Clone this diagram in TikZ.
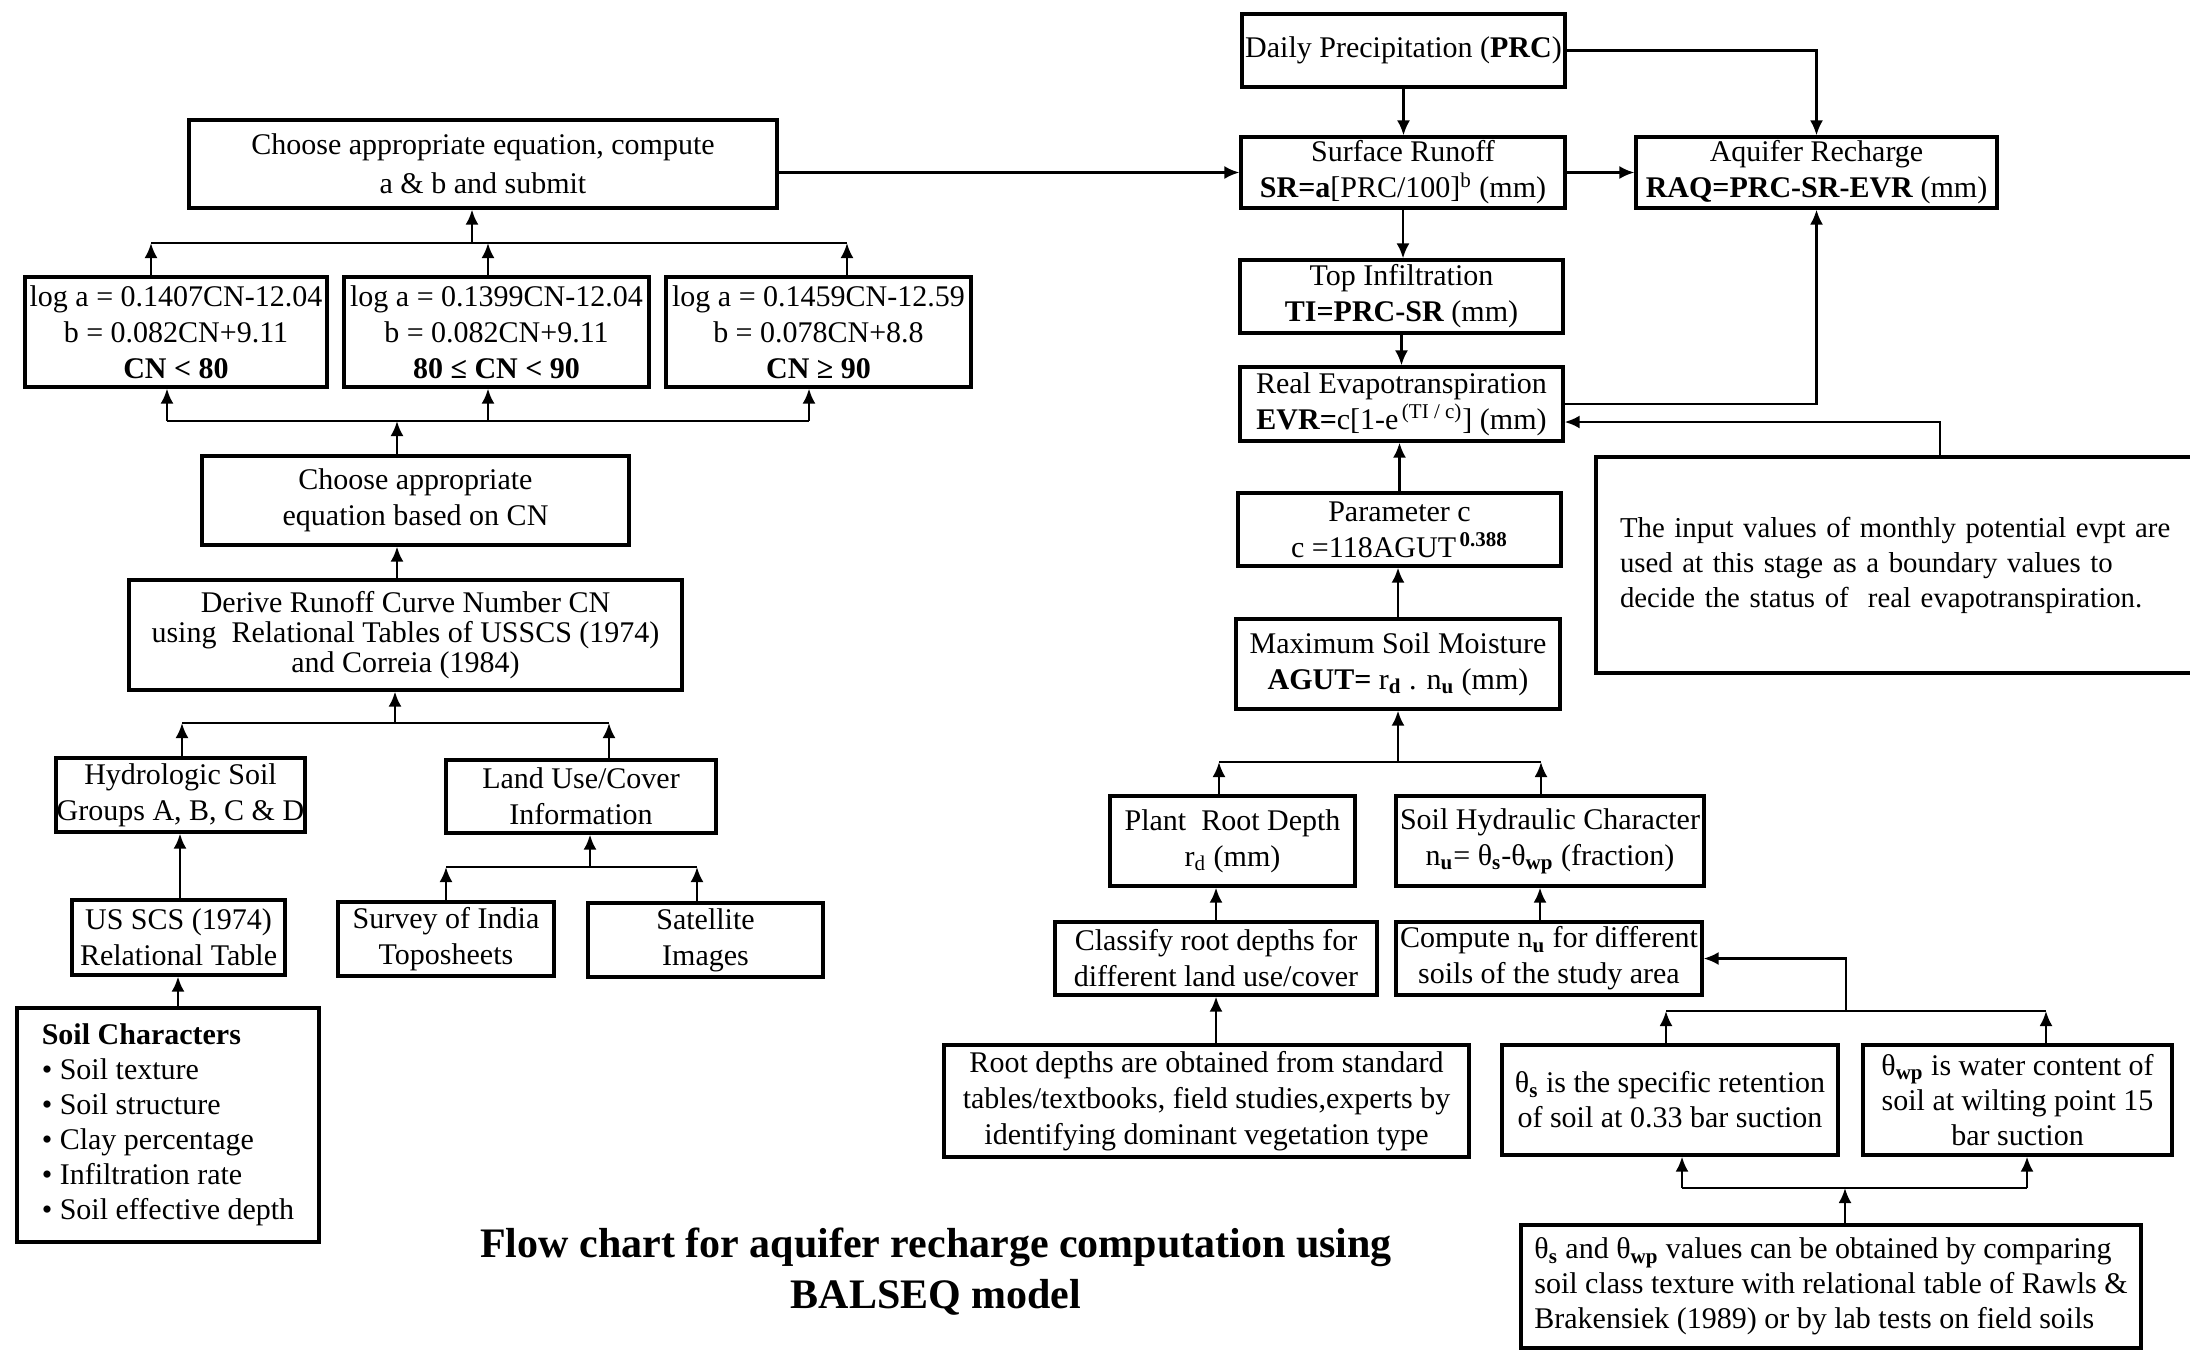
\documentclass[tikz,border=0pt]{standalone}
\usepackage{fontspec}
\setmainfont{Liberation Serif}
\usetikzlibrary{arrows.meta,calc}
\begin{document}
\begin{tikzpicture}[x=0.5pt,y=-0.5pt,
  box/.style={draw, line width=1.6pt, align=center, inner xsep=1pt, inner ysep=0pt, font=\fontsize{15}{18}\selectfont},
  conn/.style={line width=1.3pt},
  arr/.style={conn, -{Latex[length=7.5pt,width=6.5pt]}},
  ttl/.style={align=center, font=\fontsize{21}{25.5}\selectfont\bfseries}
]
\fill[white] (0,0) rectangle (2190,1350);
\useasboundingbox (0,0) rectangle (2190,1350);

% ---------------- left part ----------------
\node[box, minimum width=294pt, minimum height=44pt, font=\fontsize{15}{19.5}\selectfont] (choose) at (483,164) {Choose appropriate equation, compute\\ a \& b and submit};
\node[box, minimum width=151pt, minimum height=55pt] (log1) at (176,332) {log a = 0.1407CN-12.04\\ b = 0.082CN+9.11\\ \textbf{CN < 80}};
\node[box, minimum width=152.5pt, minimum height=55pt] (log2) at (496.5,332) {log a = 0.1399CN-12.04\\ b = 0.082CN+9.11\\ \textbf{80 ≤ CN < 90}};
\node[box, minimum width=152.5pt, minimum height=55pt] (log3) at (818.5,332) {log a = 0.1459CN-12.59\\ b = 0.078CN+8.8\\ \textbf{CN ≥ 90}};
\node[box, minimum width=213.5pt, minimum height=44.5pt] (chooseCN) at (415.5,500.5) {Choose appropriate\\ equation based on CN};
\node[box, minimum width=276.5pt, minimum height=55pt, font=\fontsize{15}{15}\selectfont] (derive) at (405.5,635) {Derive Runoff Curve Number CN\\ using\ \ Relational Tables of USSCS (1974)\\ and Correia (1984)};
\node[box, minimum width=124.5pt, minimum height=37pt, inner xsep=0pt] (hydro) at (180.5,795) {Hydrologic Soil\\ Groups A, B, C \& D};
\node[box, minimum width=135pt, minimum height=36.5pt] (landuse) at (581,796.5) {Land Use/Cover\\ Information};
\node[box, minimum width=106.5pt, minimum height=37.5pt] (usscs) at (178.5,937.5) {US SCS (1974)\\ Relational Table};
\node[box, minimum width=108pt, minimum height=37pt] (survey) at (446,939) {Survey of India\\ Toposheets};
\node[box, minimum width=117.5pt, minimum height=37pt] (satellite) at (705.5,940) {Satellite\\ Images};
\node[box, minimum width=151pt, minimum height=117pt, align=left, font=\fontsize{15}{17.5}\selectfont] (soilchar) at (168,1125) {\textbf{Soil Characters}\\ • Soil texture\\ • Soil structure\\ • Clay percentage\\ • Infiltration rate\\ • Soil effective depth};

% ---------------- right part ----------------
\node[box, minimum width=161.5pt, minimum height=36.5pt] (prc) at (1403.5,50.5) {Daily Precipitation (\textbf{PRC})};
\node[box, minimum width=162pt, minimum height=35.5pt] (sr) at (1403,172.5) {Surface Runoff\\ \textbf{SR=a}[PRC/100]\textsuperscript{b} (mm)};
\node[box, minimum width=180.5pt, minimum height=35.5pt, inner xsep=0pt] (aq) at (1816.5,172.5) {Aquifer Recharge\\ \textbf{RAQ=PRC-SR-EVR} (mm)};
\node[box, minimum width=161.5pt, minimum height=36.5pt] (ti) at (1401.5,296.5) {Top Infiltration\\ \textbf{TI=PRC-SR} (mm)};
\node[box, minimum width=161.5pt, minimum height=37pt] (evr) at (1401.5,404) {Real Evapotranspiration\\ \textbf{EVR=}c[1-e\textsuperscript{\,(TI / c)}] (mm)};
\node[box, minimum height=108pt, text width=300pt, inner xsep=12pt, align=left, font=\fontsize{14.4}{17.5}\selectfont] (note) at (1920,565) {The input values of monthly potential evpt are\\ used at this stage as a boundary values to\\ decide the status of\ \ real evapotranspiration.};
\node[box, minimum width=161.5pt, minimum height=36.5pt] (parc) at (1399.5,529.5) {Parameter c\\ c =118AGUT\textsuperscript{\,\textbf{0.388}}};
\node[box, minimum width=162pt, minimum height=45pt] (maxsm) at (1398,664) {Maximum Soil Moisture\\ \textbf{AGUT=} r\textsubscript{\textbf{d}} . n\textsubscript{\textbf{u}} (mm)};
\node[box, minimum width=122.5pt, minimum height=45pt] (plant) at (1232.5,841) {Plant\ \ Root Depth\\ r\textsubscript{d} (mm)};
\node[box, minimum width=154pt, minimum height=45pt, inner xsep=0pt] (soilhyd) at (1550,841) {Soil Hydraulic Character\\ n\textsubscript{\textbf{u}}= θ\textsubscript{\textbf{s}}-θ\textsubscript{\textbf{wp}} (fraction)};
\node[box, minimum width=161pt, minimum height=36.5pt] (classify) at (1216,958.5) {Classify root depths for\\ different land use/cover};
\node[box, minimum width=153pt, minimum height=36.5pt, inner xsep=0pt] (compute) at (1549,958.5) {Compute n\textsubscript{\textbf{u}} for different\\ soils of the study area};
\node[box, minimum width=262.5pt, minimum height=56pt] (rootdepths) at (1206.5,1101) {Root depths are obtained from standard\\ tables/textbooks, field studies,experts by\\ identifying dominant vegetation type};
\node[box, minimum width=168pt, minimum height=55pt, font=\fontsize{15}{17.5}\selectfont] (thetas) at (1670,1100) {θ\textsubscript{\textbf{s}} is the specific retention\\ of soil at 0.33 bar suction};
\node[box, minimum width=154.5pt, minimum height=55pt, font=\fontsize{15}{17.5}\selectfont] (thetawp) at (2017.5,1100) {θ\textsubscript{\textbf{wp}} is water content of\\ soil at wilting point 15\\ bar suction};
\node[box, minimum width=310pt, minimum height=61.5pt, align=left, inner xsep=0pt, font=\fontsize{15}{17.5}\selectfont] (bottom) at (1831,1286.5) {θ\textsubscript{\textbf{s}} and θ\textsubscript{\textbf{wp}} values can be obtained by comparing\\ soil class texture with relational table of Rawls \&\\ Brakensiek (1989) or by lab tests on field soils};

\node[ttl] (title) at (936,1271.5) {Flow chart for aquifer recharge computation using\\ BALSEQ model};

% ---------------- junction coordinates ----------------
\coordinate (jA0) at (472,243); \coordinate (jA1) at (151,243);
\coordinate (jA2) at (488,243); \coordinate (jA3) at (847,243);
\coordinate (jB0) at (397,421); \coordinate (jB1) at (167,421);
\coordinate (jB2) at (488,421); \coordinate (jB3) at (809,421);
\coordinate (jC) at (397,617);
\coordinate (jD0) at (395,723); \coordinate (jD1) at (182,723); \coordinate (jD2) at (609,723);
\coordinate (jE) at (180,937);
\coordinate (jF0) at (590,867); \coordinate (jF1) at (446,867); \coordinate (jF2) at (697,867);
\coordinate (jG) at (178,990);
\coordinate (jN) at (1940,422);
\coordinate (jH0) at (1398,762); \coordinate (jH1) at (1219,762); \coordinate (jH2) at (1541,762);
\coordinate (jI) at (1216,900);
\coordinate (jJ) at (1540,900);
\coordinate (jK) at (1216,1020);
\coordinate (jL0) at (1846,1011); \coordinate (jL1) at (1666,1011); \coordinate (jL2) at (2046,1011);
\coordinate (jM0) at (1845,1188); \coordinate (jM1) at (1682,1188); \coordinate (jM2) at (2027,1188);

% ---------------- connectors: left ----------------
\draw[arr] (log1.north -| jA1) -- (jA1);
\draw[arr] (log2.north -| jA2) -- (jA2);
\draw[arr] (log3.north -| jA3) -- (jA3);
\draw[conn] (jA1) -- (jA3);
\draw[arr] (jA0) -- (choose.south -| jA0);

\draw[arr] (chooseCN.north -| jB0) -- (jB0);
\draw[conn] (jB1) -- (jB3);
\draw[arr] (jB1) -- (log1.south -| jB1);
\draw[arr] (jB2) -- (log2.south -| jB2);
\draw[arr] (jB3) -- (log3.south -| jB3);

\draw[arr] (derive.north -| jC) -- (chooseCN.south -| jC);

\draw[arr] (hydro.north -| jD1) -- (jD1);
\draw[arr] (landuse.north -| jD2) -- (jD2);
\draw[conn] (jD1) -- (jD2);
\draw[arr] (jD0) -- (derive.south -| jD0);

\draw[arr] (usscs.north -| jE) -- (hydro.south -| jE);

\draw[arr] (survey.north -| jF1) -- (jF1);
\draw[arr] (satellite.north -| jF2) -- (jF2);
\draw[conn] (jF1) -- (jF2);
\draw[arr] (jF0) -- (landuse.south -| jF0);

\draw[arr] (soilchar.north -| jG) -- (usscs.south -| jG);

% ---------------- connectors: right ----------------
\draw[arr] (prc.south) -- (prc.south |- sr.north);
\draw[arr] (prc.east) -| (aq.north);
\draw[arr] (choose.east |- sr.west) -- (sr.west);
\draw[arr] (sr.east) -- (aq.west);
\draw[arr] (sr.south) -- (sr.south |- ti.north);
\draw[arr] (ti.south) -- (ti.south |- evr.north);
\draw[arr] (evr.east) -| (aq.south);
\draw[arr] (note.north -| jN) -- (jN) -- (evr.east |- jN);
\draw[arr] (parc.north) -- (parc.north |- evr.south);
\draw[arr] (maxsm.north) -- (maxsm.north |- parc.south);

\draw[arr] (plant.north -| jH1) -- (jH1);
\draw[arr] (soilhyd.north -| jH2) -- (jH2);
\draw[conn] (jH1) -- (jH2);
\draw[arr] (jH0) -- (maxsm.south -| jH0);

\draw[arr] (classify.north -| jI) -- (plant.south -| jI);
\draw[arr] (compute.north -| jJ) -- (soilhyd.south -| jJ);
\draw[arr] (rootdepths.north -| jK) -- (classify.south -| jK);

\draw[arr] (thetas.north -| jL1) -- (jL1);
\draw[arr] (thetawp.north -| jL2) -- (jL2);
\draw[conn] (jL1) -- (jL2);
\draw[arr] (jL0) |- (compute.east);

\draw[arr] (bottom.north -| jM0) -- (jM0);
\draw[conn] (jM1) -- (jM2);
\draw[arr] (jM1) -- (thetas.south -| jM1);
\draw[arr] (jM2) -- (thetawp.south -| jM2);
\end{tikzpicture}
\end{document}
